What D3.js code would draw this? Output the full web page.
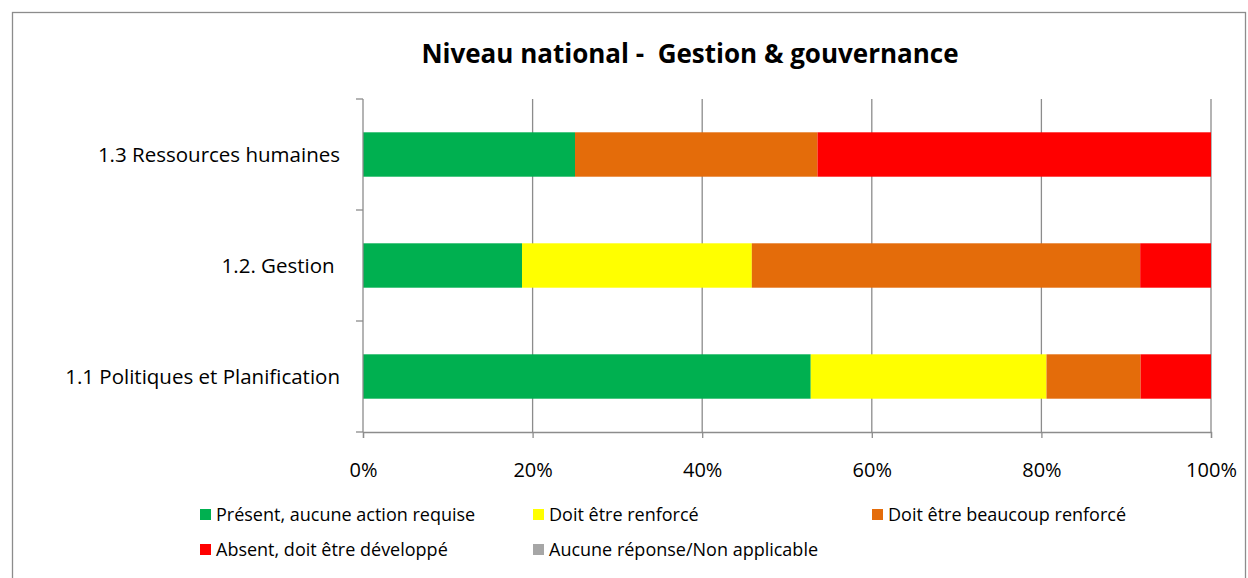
<!DOCTYPE html>
<html>
<head>
<meta charset="utf-8">
<script src="https://cdn.jsdelivr.net/npm/d3@7"></script>
<style>
  body { margin: 0; background: #fff; }
  svg { font-family: "Open Sans", sans-serif; }
</style>
</head>
<body>
<svg width="1248" height="578"></svg>
<script>
// categories, top to bottom
const categories = ["1.3 Ressources humaines", "1.2. Gestion ", "1.1 Politiques et Planification"];
const seriesNames = ["Présent, aucune action requise", "Doit être renforcé", "Doit être beaucoup renforcé", "Absent, doit être développé", "Aucune réponse/Non applicable"];
const seriesColors = ["#00b050", "#ffff00", "#e46c0a", "#ff0000", "#a6a6a6"];
// shares in %, one array per series, same order as categories
const present = [25.0, 18.75, 52.8];
const renforce = [0, 27.1, 27.8];
const beaucoup = [28.6, 45.8, 11.1];
const absent = [46.4, 8.35, 8.3];
const aucune = [0, 0, 0];
const xTicks = [0, 20, 40, 60, 80, 100];

const svg = d3.select("svg");
const width = 1248, height = 578;
const margin = { left: 363, right: 37, top: 99, bottom: 146 };

// outer chart border
svg.append("rect")
    .attr("x", 12.5).attr("y", 12.5)
    .attr("width", 1233).attr("height", 600)
    .attr("fill", "none").attr("stroke", "#8c8c8c").attr("stroke-width", 1.3);

svg.append("text")
    .attr("x", 690).attr("y", 63)
    .attr("text-anchor", "middle")
    .style("font-size", "26px").style("font-weight", "bold")
    .style("white-space", "pre")
    .text("Niveau national -  Gestion & gouvernance");

const x = d3.scaleLinear().domain([0, 100]).range([margin.left, width - margin.right]);
const y = d3.scaleBand().domain(categories)
    .range([margin.top, height - margin.bottom])
    .paddingInner(0.6).paddingOuter(0.3);

const rows = categories.map((c, i) => ({
    cat: c,
    s0: present[i], s1: renforce[i], s2: beaucoup[i], s3: absent[i], s4: aucune[i]
}));
const stack = d3.stack().keys(["s0", "s1", "s2", "s3", "s4"]);
const stacked = stack(rows);

// gridlines
svg.append("g")
    .selectAll("line")
    .data(xTicks.slice(1))
    .enter().append("line")
    .attr("x1", d => x(d)).attr("x2", d => x(d))
    .attr("y1", margin.top).attr("y2", height - margin.bottom)
    .attr("stroke", "#8c8c8c").attr("stroke-width", 1.3);

// bars
svg.append("g")
    .selectAll("g")
    .data(stacked)
    .enter().append("g")
    .attr("fill", (d, i) => seriesColors[i])
    .selectAll("rect")
    .data(d => d)
    .enter().append("rect")
    .attr("x", d => x(d[0]))
    .attr("width", d => x(d[1]) - x(d[0]))
    .attr("y", d => y(d.data.cat))
    .attr("height", y.bandwidth());

// x axis
const xAxis = svg.append("g")
    .attr("transform", `translate(0,${height - margin.bottom})`)
    .call(d3.axisBottom(x).tickValues(xTicks).tickFormat(d => d + "%").tickSize(6).tickPadding(25));
xAxis.selectAll("line, path").attr("stroke", "#8c8c8c").attr("stroke-width", 1.3);
xAxis.selectAll("text").style("font-size", "20px").attr("fill", "#000").style("font-family", "Open Sans");

// y axis, ticks at band boundaries
const yAxis = svg.append("g");
yAxis.append("line")
    .attr("x1", x(0)).attr("x2", x(0))
    .attr("y1", margin.top).attr("y2", height - margin.bottom)
    .attr("stroke", "#8c8c8c").attr("stroke-width", 1.3);
const step = y.step();
yAxis.selectAll(".tk")
    .data(d3.range(categories.length + 1))
    .enter().append("line")
    .attr("x1", x(0) - 7).attr("x2", x(0))
    .attr("y1", i => margin.top + i * step).attr("y2", i => margin.top + i * step)
    .attr("stroke", "#8c8c8c").attr("stroke-width", 1.3);
yAxis.selectAll("text")
    .data(categories)
    .enter().append("text")
    .attr("x", 340)
    .attr("y", d => y(d) + y.bandwidth() / 2)
    .attr("dy", "0.35em")
    .attr("text-anchor", "end")
    .style("font-size", "20.5px")
    .style("white-space", "pre")
    .text(d => d);

// legend
const legendPos = [[200, 515], [533, 515], [872, 515], [200, 550], [533, 550]];
const legend = svg.append("g")
    .selectAll("g")
    .data(seriesNames)
    .enter().append("g")
    .attr("transform", (d, i) => `translate(${legendPos[i][0]},${legendPos[i][1]})`);
legend.append("rect")
    .attr("x", 0).attr("y", -6).attr("width", 11).attr("height", 11)
    .attr("fill", (d, i) => seriesColors[i]);
legend.append("text")
    .attr("x", 16).attr("dy", "0.35em")
    .style("font-size", "18px")
    .text(d => d);
</script>
</body>
</html>
